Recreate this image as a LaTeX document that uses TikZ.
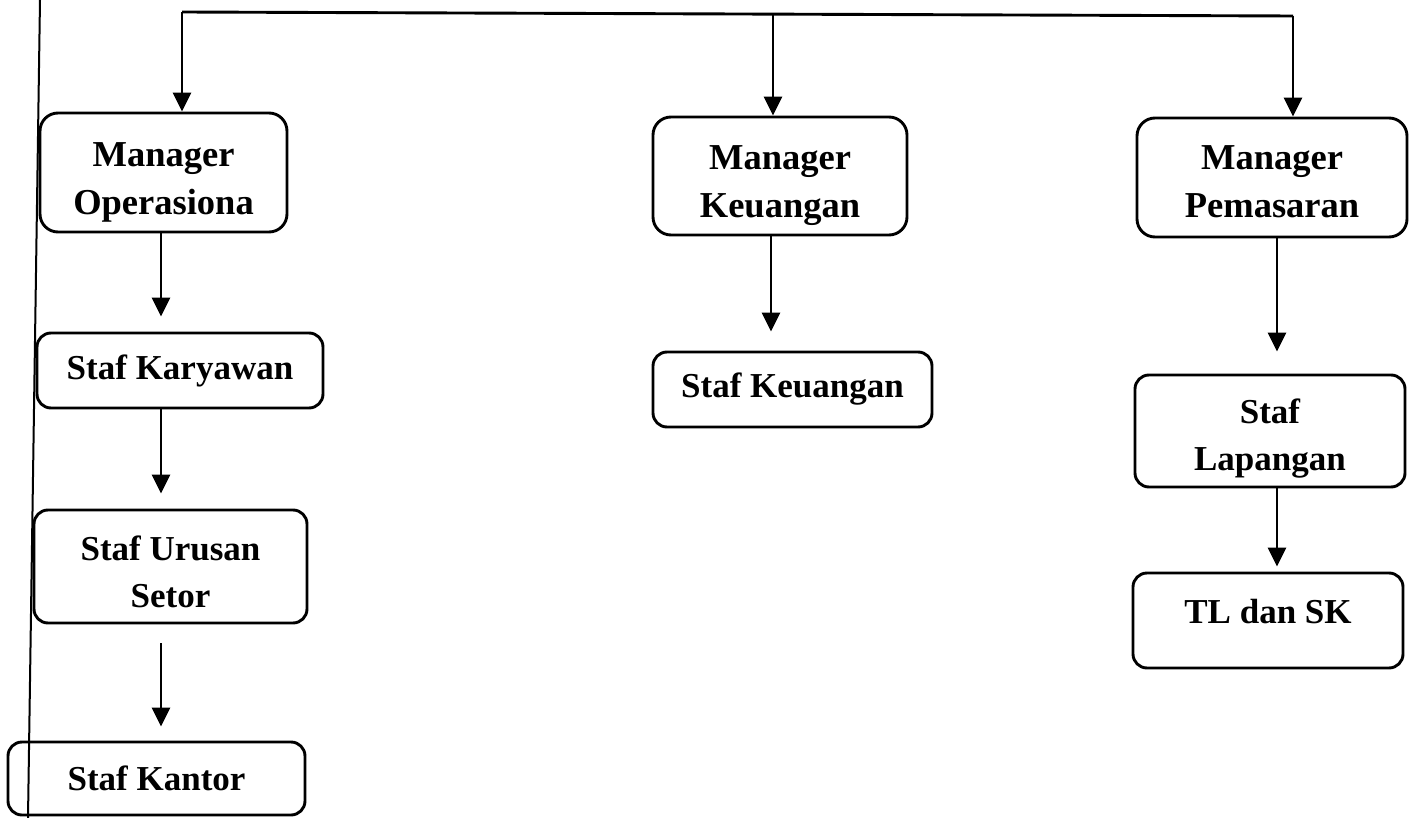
\documentclass[tikz,border=0pt]{standalone}
\usepackage{fontspec}
\setmainfont{Liberation Serif}
\usetikzlibrary{arrows.meta}
\tikzset{
  box/.style={draw, line width=2.9pt, rounded corners=14pt, align=center, inner sep=0pt, font=\bfseries\fontsize{35}{47}\selectfont},
  mgr/.style={box, rounded corners=18pt, font=\bfseries\fontsize{36.5}{48}\selectfont},
  arr/.style={line width=2.9pt, -{Triangle[length=19pt,width=18pt]}},
  conn/.style={line width=2.9pt},
  edge/.style={line width=2pt}
}
\begin{document}
\begin{tikzpicture}[x=1pt,y=-1pt]
\useasboundingbox (0,0) rectangle (1410,818);
% left border line
\coordinate (bt) at (40,0);
\coordinate (bb) at (28,818);
\draw[edge] (bt) -- (bb);
% managers
\node[mgr, minimum width=247, minimum height=119, text height=92pt] (mo) at (163.5,172.5) {Manager\\Operasiona};
\node[mgr, minimum width=254, minimum height=118, text height=91pt] (mk) at (780,176) {Manager\\Keuangan};
\node[mgr, minimum width=270, minimum height=119, text height=81pt] (mp) at (1272,177.5) {Manager\\Pemasaran};
% staff
\node[box, minimum width=286, minimum height=75] (sk) at (180,370.5) {Staf Karyawan};
\node[box, minimum width=273, minimum height=113, text height=82pt] (su) at (170.5,566.5) {Staf Urusan\\Setor};
\node[box, minimum width=297, minimum height=73] (sko) at (156.5,778.5) {Staf Kantor};
\node[box, minimum width=279, minimum height=75] (skeu) at (792.5,389.5) {Staf Keuangan};
\node[box, minimum width=270, minimum height=112, text height=87pt] (sl) at (1270,431) {Staf\\Lapangan};
\node[box, minimum width=270, minimum height=95, text depth=18pt] (tds) at (1268,620.5) {TL dan SK};
% top bus
\coordinate (tl) at (182,12);
\coordinate (tm) at (773,14);
\coordinate (tr) at (1293,16);
\draw[conn] (tl) -- (tr);
\draw[arr] (tl) -- (tl |- mo.north);
\draw[arr] (tm) -- (tm |- mk.north);
\draw[arr] (tr) -- (tr |- mp.north);
% left column
\coordinate (lx) at (161,0);
\draw[arr, shorten >=15pt] (lx |- mo.south) -- (lx |- sk.north);
\draw[arr, shorten >=15pt] (lx |- sk.south) -- (lx |- su.north);
\draw[arr, shorten <=19pt, shorten >=14pt] (lx |- su.south) -- (lx |- sko.north);
% middle column
\coordinate (mx) at (771,0);
\draw[arr, shorten >=19pt] (mx |- mk.south) -- (mx |- skeu.north);
% right column
\coordinate (rx) at (1277,0);
\draw[arr, shorten >=22pt] (rx |- mp.south) -- (rx |- sl.north);
\draw[arr, shorten >=5pt] (rx |- sl.south) -- (rx |- tds.north);
\end{tikzpicture}
\end{document}
